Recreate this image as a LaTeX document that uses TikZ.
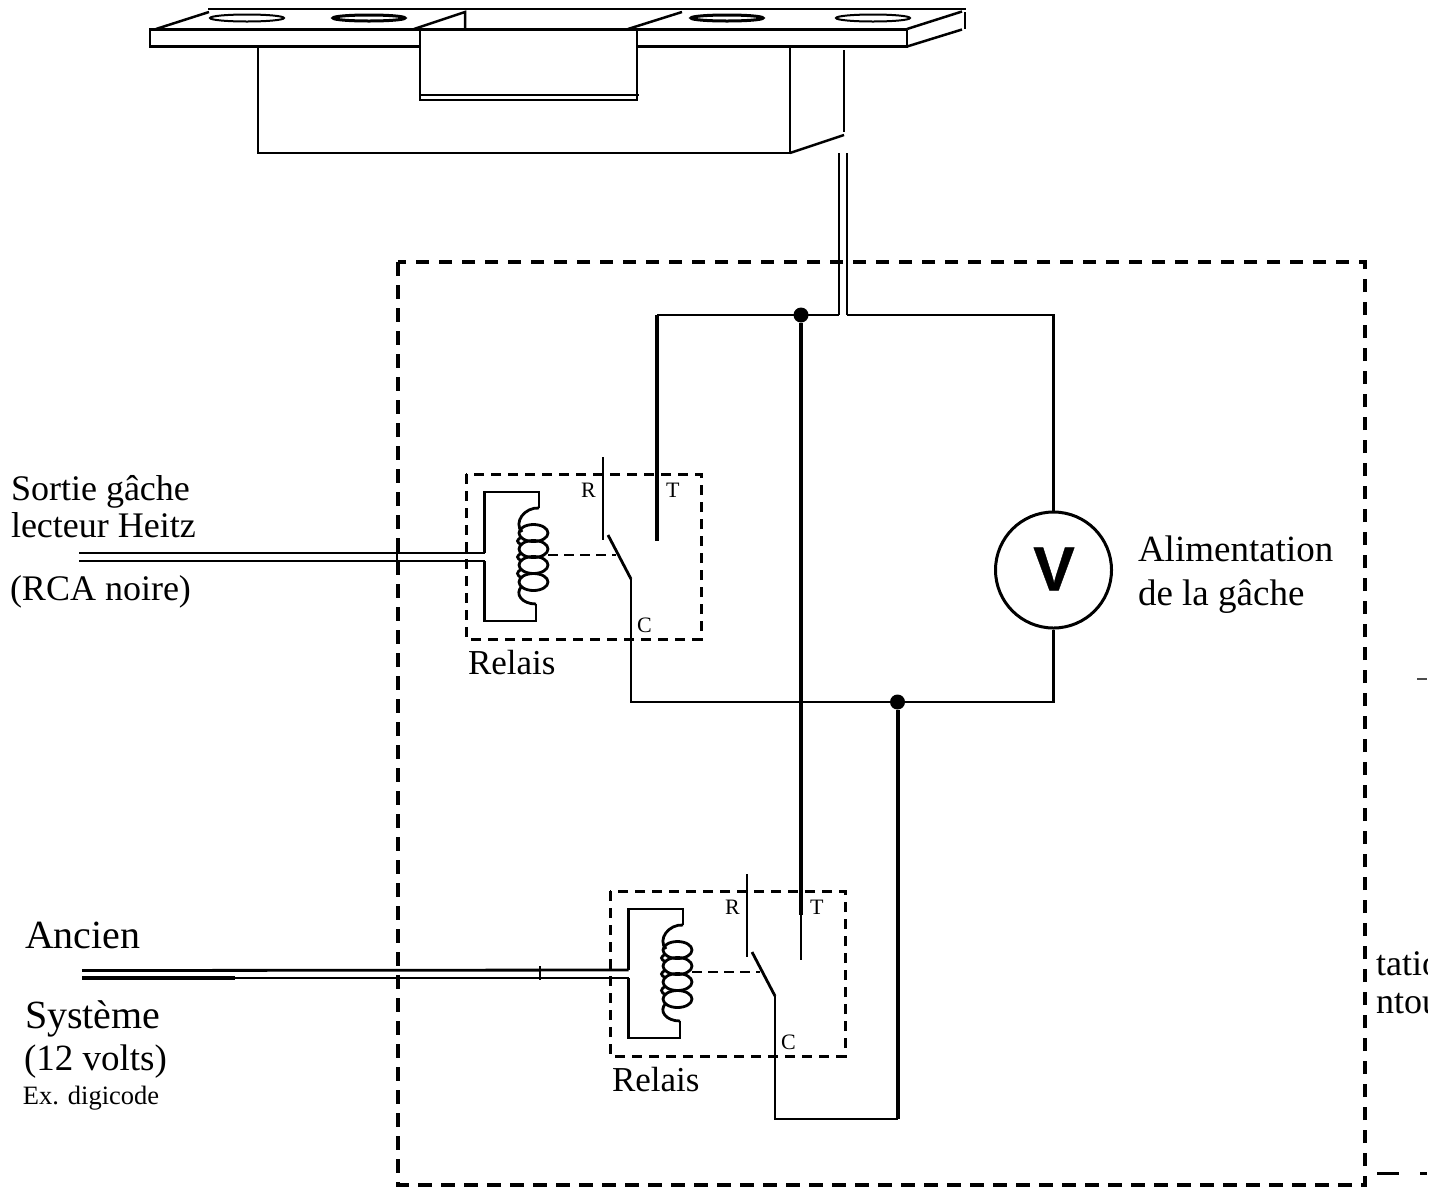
\documentclass[tikz,border=0pt]{standalone}
\usepackage{fontspec}
\setmainfont{Liberation Serif}
\newfontfamily\voltfont[BoldFeatures={FakeBold=0.6}]{Liberation Sans}
\tikzset{
  wire/.style={draw=black,line width=2.8pt,line cap=butt,line join=miter},
  thickwire/.style={draw=black,line width=4pt},
  part/.style={draw=black,line width=2.5pt,line join=miter},
  outerbox/.style={draw=black,line width=3.6pt,dash pattern=on 13.5pt off 9.5pt},
  relaybox/.style={draw=black,line width=3pt,dash pattern=on 10pt off 7pt},
  link/.style={draw=black,line width=2.8pt,dash pattern=on 10pt off 6pt},
  junction/.style={circle,fill=black,inner sep=0pt,minimum size=15pt},
  lbl/.style={anchor=base west,inner sep=0pt,outer sep=0pt},
  meter/.style={circle,draw=black,line width=3pt,minimum size=116pt,inner sep=0pt,fill=white},
}
\newcommand{\tfs}[1]{\fontsize{#1}{#1}\selectfont}
\newcommand{\relayunit}[3]{%
 \begin{scope}[shift={(#1,#2)}]
  \draw[relaybox] (466,474) rectangle (701,639);
  \coordinate (#3up) at (484.5,553);
  \coordinate (#3lo) at (484.5,561);
  \draw[wire] (#3up) -- (484.5,492) -- (539,492) -- (539,508);
  \draw[wire] (#3lo) -- (484.5,621) -- (536,621) -- (536,604);
  \draw[wire] (539,508) .. controls (525,507) and (513,522) .. (522,532);
  \foreach \yy in {533,549,565,582}
    \draw[wire] (533.5,\yy) ellipse (14.5pt and 8.5pt);
  \foreach \ya/\yb in {533/549,549/565,565/582}
    \draw[wire] (522,\ya+4) .. controls (516,\ya+7) and (516,\yb-7) .. (522,\yb-4);
  \draw[wire] (522,586) .. controls (514,594) and (522,604) .. (536,604);
  \draw[link] (548,555) -- (616,555);
  \draw[wire] (603,457) -- (603,540);
  \draw[wire] (608,535) -- (631,579);
  \node[lbl] (#3R) at (581,497) {\tfs{22}R};
  \node[lbl] (#3T) at (666,497) {\tfs{22}T};
  \node[lbl] (#3C) at (637,632) {\tfs{22}C};
  \node[lbl] (#3name) at (468,674) {\tfs{35}Relais};
 \end{scope}}
\begin{document}
\begin{tikzpicture}[x=1pt,y=-1pt]
\useasboundingbox (0,0) rectangle (1442,1187);
% strike plate
\draw[part] (150,29.5) rectangle (420,46.5);
\draw[part] (637,46.5) -- (907,46.5) -- (907,29.5);
\draw[part] (420,29.5) -- (907,29.5);
\draw[part] (208,9) -- (966,9);
\draw[part] (156,29) -- (209,12);
\draw[part] (414,29) -- (465,12) -- (465,29);
\draw[part] (628,29) -- (682,12);
\draw[part] (907,29) -- (962,11.5);
\draw[part] (907,46.5) -- (962,29.5);
\draw[part] (965,12) -- (965,29);
\draw[part] (420,46) -- (420,100) -- (637,100) -- (637,29.5);
\draw[part] (420,95) -- (639,95);
\draw[part] (258,47) -- (258,153) -- (790,153) -- (790,47);
\draw[part] (790,153) -- (844,135);
\draw[part] (844,50) -- (844,132);
\draw[part,line width=2pt] (247,18) ellipse (37pt and 3.5pt);
\draw[part,line width=3pt] (369,18) ellipse (36pt and 3pt);
\draw[part,line width=3pt] (727,18) ellipse (36pt and 3pt);
\draw[part,line width=2pt] (873,18) ellipse (37pt and 3.5pt);
% outer box
\draw[outerbox] (398,262) rectangle (1365,1185);
% relays
\relayunit{0}{0}{ra}
\relayunit{144}{417}{rb}
% coordinates and nodes
\coordinate (ga) at (839,153);
\coordinate (gb) at (847,153);
\coordinate (gaf) at (839,315);
\coordinate (gbf) at (847,315);
\node[junction] (j1) at (801,315) {};
\node[junction] (j2) at (897.5,702) {};
\node[meter] (vm) at (1053.5,570) {};
\node at (1054,569) {\voltfont\bfseries\tfs{62}V};
\coordinate (tr) at (1053.5,315);
\coordinate (br) at (1053.5,702);
\coordinate (ta) at (657,315);
\coordinate (tae) at (657,541);
\coordinate (ca) at (631,579);
\coordinate (cab) at (631,702);
\coordinate (tbm) at (801,915);
\coordinate (tbe) at (801,960);
\coordinate (cb) at (775,996);
\coordinate (cbb) at (775,1119);
\coordinate (jb) at (897.5,1119);
\coordinate (lau) at (79,553);
\coordinate (lal) at (79,561);
\coordinate (lbu) at (82,970.5);
\coordinate (lbd) at (82,978);
% wiring
\draw[wire] (ga) -- (gaf);
\draw[wire] (gb) -- (gbf);
\draw[wire] (ta) -- (gaf);
\draw[wire] (gbf) -- (tr) -- (vm.north);
\draw[thickwire] (ta) -- (tae);
\draw[thickwire] (j1) -- (tbm);
\draw[wire] (tbm) -- (tbe);
\draw[wire] (vm.south) -- (br) -- (cab) -- (ca);
\draw[thickwire] (j2) -- (jb);
\draw[wire] (jb) -- (cbb) -- (cb);
\draw[wire] (lau) -- (raup);
\draw[wire] (lal) -- (ralo);
\draw[wire] (lbu) -- (rbup);
\draw[wire] (lbd) -- (rblo);
\draw[wire,line width=3.4pt] (lbu) -- (235,970.5);
\draw[wire,line width=3.4pt] (lbd) -- (235,978);
\draw[draw=black,line width=1.6pt] (397,545) -- (397,570);
\draw[draw=black,line width=1.6pt] (540,966) -- (540,980);
% texts
\node[lbl] (t1) at (11,500) {\tfs{36}Sortie gâche};
\node[lbl] (t2) at (11,537) {\tfs{36}lecteur Heitz};
\node[lbl] (t3) at (10,600) {\tfs{36}(RCA noire)};
\node[lbl] (t4) at (1138,561) {\tfs{37}Alimentation};
\node[lbl] (t5) at (1138,605) {\tfs{37}de la gâche};
\node[lbl] (t6) at (25,948) {\tfs{40}Ancien};
\node[lbl] (t7) at (25,1028) {\tfs{40}Système};
\node[lbl] (t8) at (24,1070) {\tfs{37}(12 volts)};
\node[lbl] (t9) at (23,1104) {\tfs{26.5}Ex. digicode};
\begin{scope}
 \clip (1368,940) rectangle (1427,1020);
 \node[lbl] (t10) at (1376,975) {\tfs{36}tation};
 \node[lbl] (t11) at (1376,1013) {\tfs{36}ntour};
\end{scope}
\draw[draw=black!70,line width=2pt] (1417,679) -- (1427,679);
\draw[draw=black,line width=3pt] (1377,1173) -- (1399,1173);
\draw[draw=black,line width=3pt] (1420,1173) -- (1427,1173);
\end{tikzpicture}
\end{document}
